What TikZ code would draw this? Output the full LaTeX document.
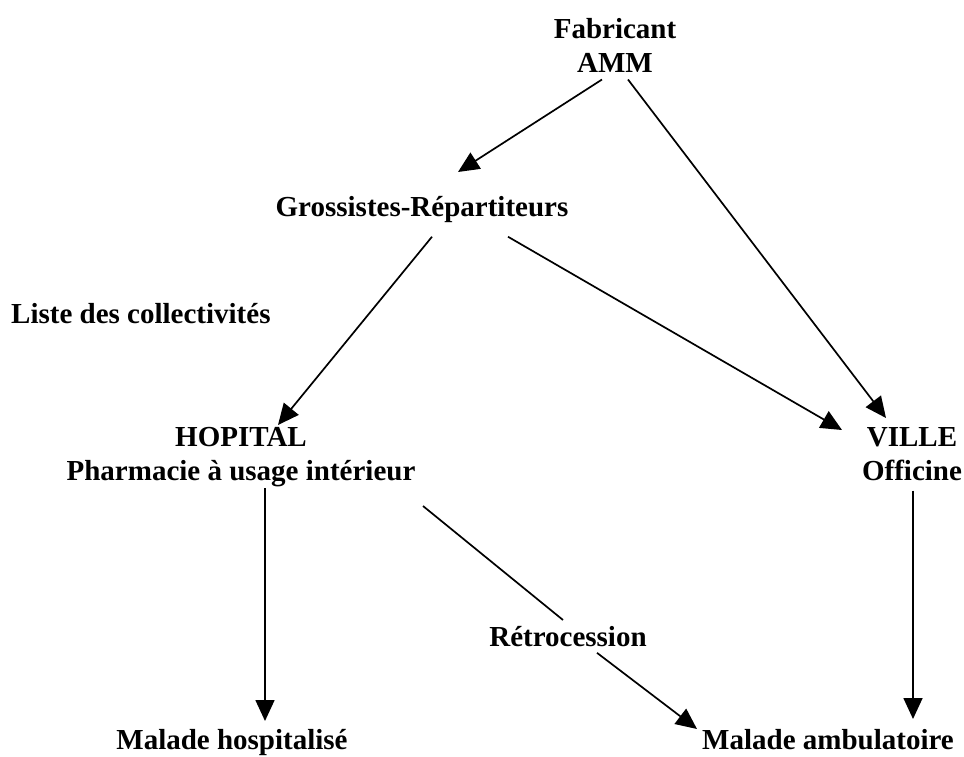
\documentclass[tikz,border=0pt]{standalone}
\usepackage{fontspec}
\setmainfont{Liberation Serif}
\usepackage{tikz}
\usetikzlibrary{arrows.meta, positioning, calc, }
\tikzset{
  lbl/.style={font=\fontsize{29}{34}\selectfont\bfseries, inner sep=0pt, align=center, anchor=north},
  flow/.style={line width=1.7pt, -{Triangle[length=21pt,width=19pt]}},
  link/.style={line width=1.7pt},
}

\begin{document}
\begin{tikzpicture}[x=1pt, y=-1pt]
    \useasboundingbox (0, 0) rectangle (964, 757);

    % acteurs
    \node[lbl] (fab) at (615, 18) {Fabricant\\AMM};
    \node[lbl] (gro) at (422, 196) {Grossistes-Répartiteurs};
    \node[lbl, anchor=north west] (liste) at (11, 303) {Liste des collectivités};
    \node[lbl] (hop) at (241, 427) {HOPITAL\\Pharmacie à usage intérieur};
    \node[lbl] (ville) at (912, 427) {VILLE\\Officine};
    \node[lbl] (retro) at (568, 626) {Rétrocession};
    \node[lbl] (mhosp) at (232, 729) {Malade hospitalisé};
    \node[lbl] (mamb) at (828, 729) {Malade ambulatoire};

    % circuit
    \draw[flow] ($(fab.south)+(-13, 7)$) -- ($(gro.north)+(36, -24)$);
    \draw[flow] ($(fab.south)+(13, 7)$) -- ($(ville.north)+(-26, -9)$);
    \draw[flow] ($(gro.south)+(10, 14)$) -- ($(hop.north)+(37, -2)$);
    \draw[flow] ($(gro.south)+(86, 14)$) -- ($(ville.north)+(-70, 3)$);
    \draw[flow] ($(hop.south)+(24, 1)$) -- ($(mhosp.north)+(33, -8)$);
    \draw[link] ($(hop.south)+(182, 19)$) -- ($(retro.north)+(-5, -6)$);
    \draw[flow] ($(retro.south)+(29, 6)$) -- ($(mamb.north)+(-131, 0)$);
    \draw[flow] ($(ville.south)+(1, 10)$) -- ($(mamb.north)+(85, -10)$);

\end{tikzpicture}
\end{document}
